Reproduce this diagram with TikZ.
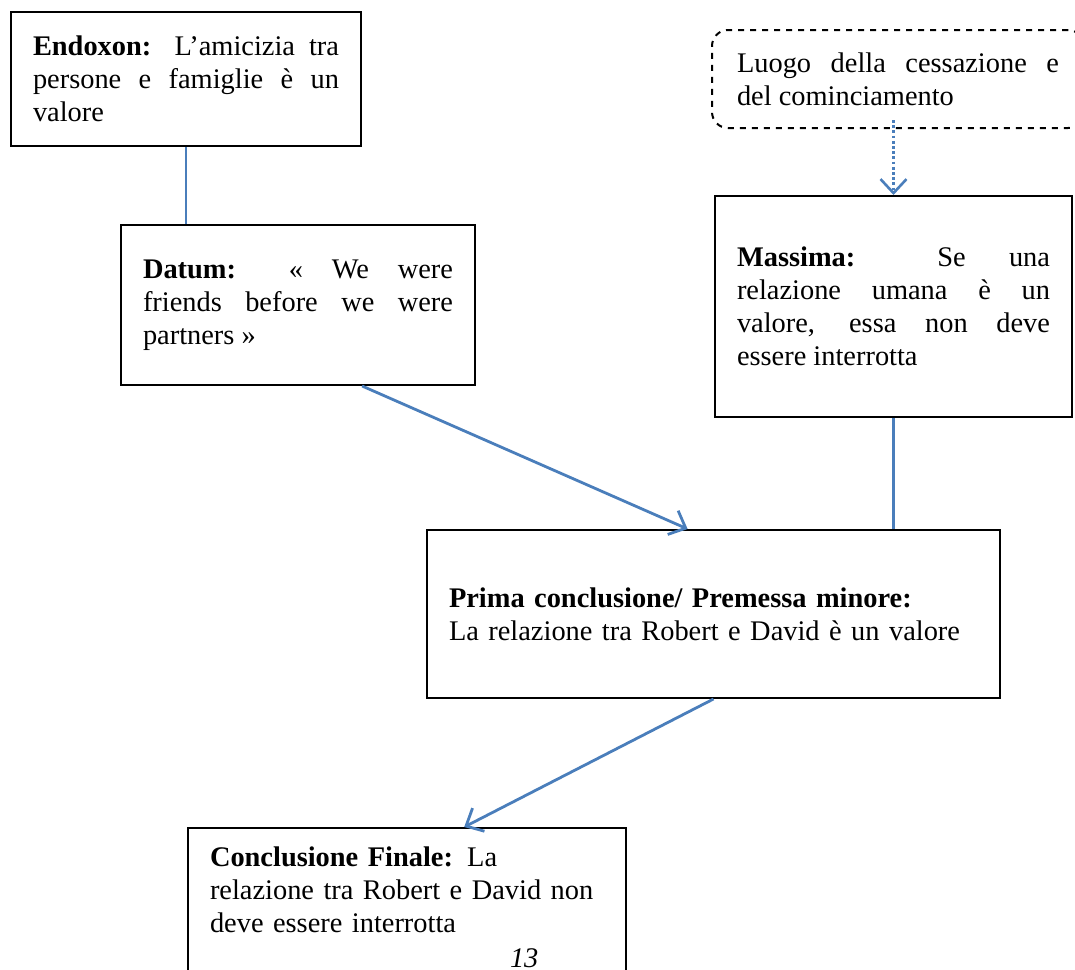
\documentclass[tikz,border=0pt]{standalone}
\usepackage{fontspec}
\setmainfont{Liberation Serif}
\usetikzlibrary{arrows.meta,calc}
\definecolor{linkblue}{RGB}{74,126,187}

\begin{document}
\begin{tikzpicture}[x=0.5pt, y=-0.5pt, >={Straight Barb[length=7pt,width=13pt]},
    box/.style={ draw, line width=1pt, rectangle, inner xsep=11pt,
      inner ysep=0pt, align=justify,
      font=\fontsize{14.2}{16.5}\selectfont },
    link/.style={ linkblue, line width=1.4pt },
    hint/.style={ linkblue, line width=1.3pt, dash pattern=on 1.4pt off 1.2pt } ]
  \useasboundingbox (0,0) rectangle (1075,969);
  % boxes
  \node[box, minimum width=175pt, minimum height=67pt, text width=153pt]
    (endoxon) at (186,79) {\textbf{Endoxon:} L’amicizia tra\linebreak
      persone e famiglie è un\linebreak valore};
  \node[box, minimum width=177pt, minimum height=80pt, text width=155pt]
    (datum) at (298,305) {\textbf{Datum:} « We were\linebreak
      friends before we were\linebreak partners »};
  \node[box, dashed, rounded corners=8pt, inner xsep=12.5pt,
    minimum width=186pt, minimum height=49pt, text width=161pt]
    (luogo) at (898,79) {Luogo della cessazione e\linebreak
      del cominciamento};
  \node[box, minimum width=178.5pt, minimum height=110.5pt, text width=156.5pt]
    (massima) at (893.5,306.5) {\textbf{Massima:} Se una\linebreak
      relazione umana è un\linebreak valore, essa non deve\linebreak
      essere interrotta};
  \node[box, align=left, minimum width=286.5pt, minimum height=84pt,
    text width=264.5pt] (prima) at (713.5,614)
    {\textbf{Prima conclusione/ Premessa minore:}\\
      La relazione tra Robert e David è un valore};
  \node[box, align=left, minimum width=219pt, minimum height=79pt,
    text width=197pt] (finale) at (407,907)
    {\textbf{Conclusione Finale:} La\\ relazione tra Robert e David non\\
      deve essere interrotta\\[1pt] \hspace*{150pt}\textit{13}};
  % connectors
  \draw[link] (endoxon.south) -- (endoxon.south |- datum.north);
  \draw[link,->] ($(datum.south west)!0.68!(datum.south east)$)
    -- ($(prima.north west)!0.455!(prima.north east)$);
  \draw[hint,->] (massima.north |- luogo.south) ++(0,-9) -- (massima.north);
  \draw[link] (massima.south) -- (massima.south |- prima.north);
  \draw[link,->] (prima.south)
    -- ($(finale.north west)!0.63!(finale.north east)$);
\end{tikzpicture}
\end{document}
